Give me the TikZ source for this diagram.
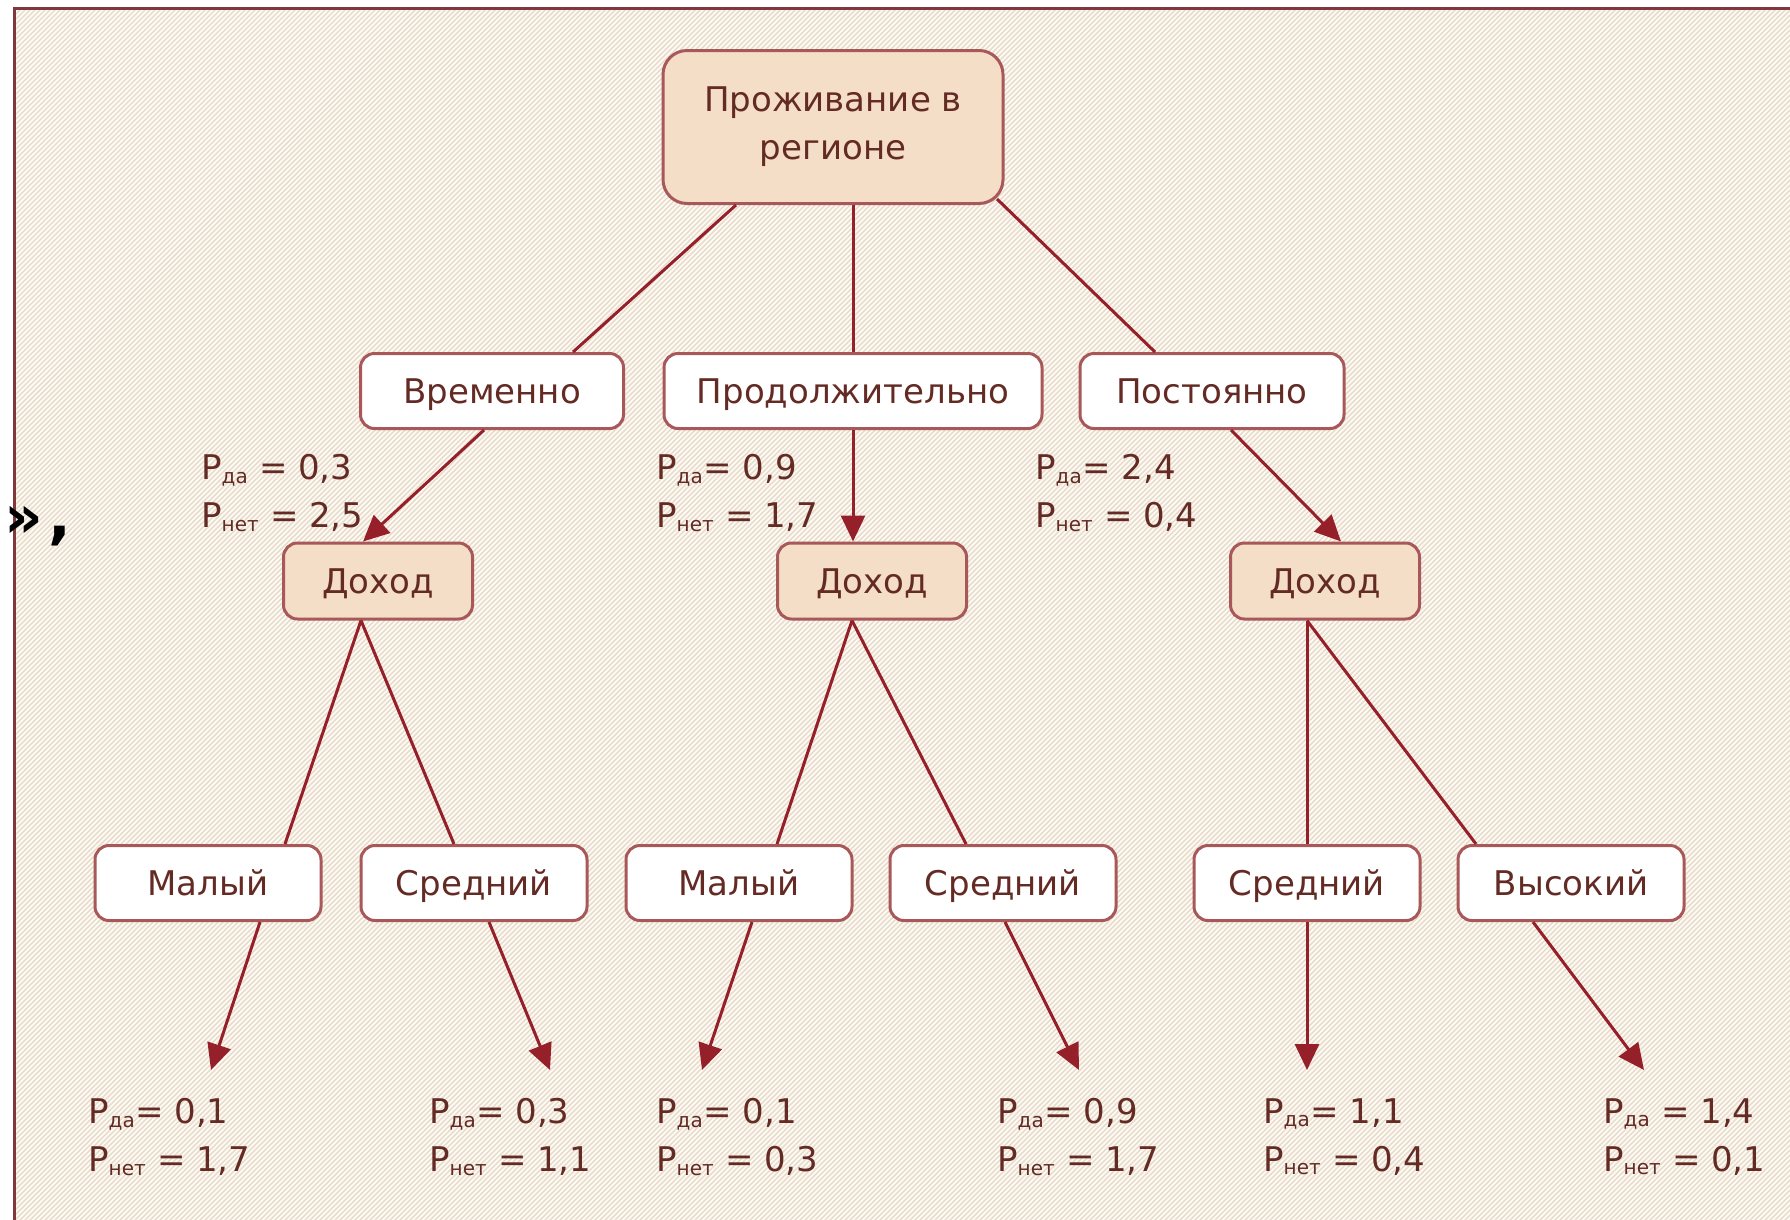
\documentclass[tikz,border=0pt]{standalone}
\usepackage{fontspec}
\setmainfont{DejaVu Sans}
\usetikzlibrary{arrows.meta}
\definecolor{boxEdge}{RGB}{168,88,88}
\definecolor{tanFill}{RGB}{244,222,200}
\definecolor{lineRed}{RGB}{150,32,42}
\definecolor{txtBrown}{RGB}{100,42,36}
\definecolor{creamBg}{RGB}{253,251,246}
\definecolor{hatchTan}{RGB}{232,218,200}
\definecolor{frameEdge}{RGB}{128,56,60}
\newcommand{\psub}[1]{\textsubscript{\fontsize{20}{20}\selectfont #1}}
\tikzstyle{tanbox} = [rectangle, draw=boxEdge, line width=3pt, fill=tanFill, text=txtBrown, rounded corners=14pt, minimum height=76pt, inner sep=0pt, text height=25pt, text depth=0pt]
\tikzstyle{whitebox} = [rectangle, draw=boxEdge, line width=3pt, fill=white, text=txtBrown, rounded corners=14pt, minimum height=75pt, inner sep=0pt, text height=25pt, text depth=0pt]
\tikzstyle{line} = [draw=lineRed, line width=3pt]
\tikzstyle{arrow} = [draw=lineRed, line width=3pt, -{Triangle[length=26pt,width=24pt]}]
\tikzstyle{prob} = [anchor=north west, inner sep=0pt, align=left, text=txtBrown]

\begin{document}
\begin{tikzpicture}[x=1pt, y=-1pt, font=\fontsize{34}{48}\selectfont]
    \useasboundingbox (0,0) rectangle (1790,1219);
    \clip (0,0) rectangle (1790,1219);
    \fill [white] (0,0) rectangle (1790,1219);
    % frame with hatching
    \fill [creamBg] (14,8) rectangle (1820,1240);
    \begin{scope}
        \clip (14,8) rectangle (1820,1240);
        \foreach \c in {0,5,...,3100}
            \draw [hatchTan, line width=1.4pt] (\c,0) -- ++(-1300,1300);
    \end{scope}
    \draw [frameEdge, line width=3pt] (14,8) rectangle (1820,1240);

    % tree
    \node [tanbox, minimum width=340pt, minimum height=153pt, rounded corners=24pt, align=center, text height=, text depth=] (region) at (833,127) {Проживание в\\регионе};
    \node [whitebox, minimum width=263pt] (vremenno) at (492,391) {Временно};
    \node [whitebox, minimum width=378pt] (prodolzh) at (853,391) {Продолжительно};
    \node [whitebox, minimum width=264pt] (postoyanno) at (1212,391) {Постоянно};
    \node [tanbox, minimum width=189pt] (dohodA) at (378,581) {Доход};
    \node [tanbox, minimum width=189pt] (dohodB) at (872,581) {Доход};
    \node [tanbox, minimum width=189pt] (dohodC) at (1325,581) {Доход};
    \node [whitebox, minimum width=226pt] (malyjA) at (208,883) {Малый};
    \node [whitebox, minimum width=226pt] (srednijA) at (474,883) {Средний};
    \node [whitebox, minimum width=226pt] (malyjB) at (739,883) {Малый};
    \node [whitebox, minimum width=226pt] (srednijB) at (1003,883) {Средний};
    \node [whitebox, minimum width=226pt] (srednijC) at (1307,883) {Средний};
    \node [whitebox, minimum width=226pt] (vysokij) at (1571,883) {Высокий};
    \coordinate (endMalyjA) at (211,1070);
    \coordinate (endSrednijA) at (550,1070);
    \coordinate (endMalyjB) at (702,1070);
    \coordinate (endSrednijB) at (1079,1070);
    \coordinate (endSrednijC) at (1307,1070);
    \coordinate (endVysokij) at (1644,1070);

    \path [line] ([shift={(-97,0)}]region.south) -- ([shift={(81,0)}]vremenno.north);
    \path [line] (region.south -| prodolzh.north) -- (prodolzh.north);
    \path [line] ([shift={(164,-6)}]region.south) -- ([shift={(-57,0)}]postoyanno.north);
    \path [arrow] ([shift={(-8,0)}]vremenno.south) -- ([shift={(-15,0)}]dohodA.north);
    \path [arrow] (prodolzh.south) -- (prodolzh.south |- dohodB.north);
    \path [arrow] ([shift={(19,0)}]postoyanno.south) -- ([shift={(16,0)}]dohodC.north);
    \path [line] ([shift={(-17,0)}]dohodA.south) -- ([shift={(77,0)}]malyjA.north);
    \path [line] ([shift={(-17,0)}]dohodA.south) -- ([shift={(-20,0)}]srednijA.north);
    \path [line] ([shift={(-20,0)}]dohodB.south) -- ([shift={(38,0)}]malyjB.north);
    \path [line] ([shift={(-20,0)}]dohodB.south) -- ([shift={(-37,0)}]srednijB.north);
    \path [line] ([shift={(-18,0)}]dohodC.south) -- (srednijC.north);
    \path [line] ([shift={(-18,0)}]dohodC.south) -- ([shift={(-95,0)}]vysokij.north);
    \path [arrow] ([shift={(52,0)}]malyjA.south) -- (endMalyjA);
    \path [arrow] ([shift={(15,0)}]srednijA.south) -- (endSrednijA);
    \path [arrow] ([shift={(13,0)}]malyjB.south) -- (endMalyjB);
    \path [arrow] ([shift={(2,0)}]srednijB.south) -- (endSrednijB);
    \path [arrow] (srednijC.south) -- (endSrednijC);
    \path [arrow] ([shift={(-38,0)}]vysokij.south) -- (endVysokij);

    % probabilities
    \node [prob] (probVremenno) at (201,454) {P\psub{да} = 0,3\\P\psub{нет} = 2,5};
    \node [prob] (probProdolzh) at (656,454) {P\psub{да}= 0,9\\P\psub{нет} = 1,7};
    \node [prob] (probPostoyanno) at (1035,454) {P\psub{да}= 2,4\\P\psub{нет} = 0,4};
    \node [prob] (probMalyjA) at (88,1098) {P\psub{да}= 0,1\\P\psub{нет} = 1,7};
    \node [prob] (probSrednijA) at (429,1098) {P\psub{да}= 0,3\\P\psub{нет} = 1,1};
    \node [prob] (probMalyjB) at (656,1098) {P\psub{да}= 0,1\\P\psub{нет} = 0,3};
    \node [prob] (probSrednijB) at (997,1098) {P\psub{да}= 0,9\\P\psub{нет} = 1,7};
    \node [prob] (probSrednijC) at (1263,1098) {P\psub{да}= 1,1\\P\psub{нет} = 0,4};
    \node [prob] (probVysokij) at (1603,1098) {P\psub{да} = 1,4\\P\psub{нет} = 0,1};

    \node [anchor=base west, inner sep=0pt, font=\fontsize{60}{60}\bfseries\selectfont] (quoteMark) at (4,537) {»\hspace{6pt},};
\end{tikzpicture}
\end{document}
